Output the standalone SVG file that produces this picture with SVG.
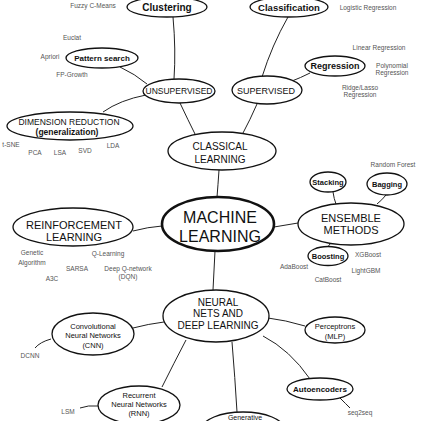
<svg xmlns="http://www.w3.org/2000/svg" width="421" height="421" viewBox="0 0 421 421">
<defs>
<style>
.n ellipse{fill:#fff;stroke:#111;stroke-width:1.3}
.big ellipse{stroke-width:2.6}
.t{font-family:"Liberation Sans",Arial,sans-serif;fill:#111;text-anchor:middle}
.b{font-weight:bold}
.s{font-family:"Liberation Sans",Arial,sans-serif;fill:#555;font-size:6.5px;text-anchor:middle}
#connectors path{fill:none;stroke:#222;stroke-width:1}
</style>
</defs>
<rect width="421" height="421" fill="#fff"/>
<g id="connectors">
<path d="M173,17 Q176,50 174,79"/>
<path d="M120,67 Q135,74 147,84"/>
<path d="M146,95 Q120,100 103,112"/>
<path d="M180,103 Q188,120 195,134"/>
<path d="M288,17 Q272,45 262,77"/>
<path d="M310,73 Q300,78 292,81"/>
<path d="M257,104 Q250,120 243,133"/>
<path d="M219,170 Q218,185 217,197"/>
<path d="M133,231 Q148,227 162,226"/>
<path d="M274,227 Q286,225 298,223"/>
<path d="M333,192 Q334,199 336,204"/>
<path d="M386,195 Q382,200 377,204"/>
<path d="M330,244 L327,248"/>
<path d="M215,251 L213,290"/>
<path d="M164,322 Q148,324 133,328"/>
<path d="M268,318 Q285,320 305,326"/>
<path d="M263,336 Q290,350 310,379"/>
<path d="M186,340 Q174,363 162,387"/>
<path d="M232,342 Q235,378 237,412"/>
<path d="M35,348 Q40,342 51,339"/>
<path d="M80,408 Q88,405 98,406"/>
<path d="M340,398 Q346,404 350,408"/>
</g>
<g id="clustering" class="n"><ellipse cx="167" cy="7" rx="40" ry="10"/><text class="t b" x="167" y="11" font-size="10">Clustering</text></g>
<g id="classification" class="n"><ellipse cx="289" cy="7" rx="39" ry="10"/><text class="t b" x="289" y="11" font-size="9.5">Classification</text></g>
<g id="pattern-search" class="n"><ellipse cx="102" cy="58" rx="36" ry="10"/><text class="t b" x="102" y="61" font-size="8">Pattern search</text></g>
<g id="unsupervised" class="n"><ellipse cx="179" cy="91" rx="36" ry="12"/><text class="t" x="179" y="94" font-size="8.5">UNSUPERVISED</text></g>
<g id="supervised" class="n"><ellipse cx="267" cy="90" rx="35" ry="14"/><text class="t" x="266" y="94" font-size="9">SUPERVISED</text></g>
<g id="regression" class="n"><ellipse cx="335" cy="66" rx="30" ry="10"/><text class="t b" x="335" y="69" font-size="9">Regression</text></g>
<g id="dimension-reduction" class="n"><ellipse cx="70" cy="126" rx="63" ry="14"/><text class="t" x="69" y="125" font-size="8.5">DIMENSION REDUCTION</text><text class="t b" x="67" y="135" font-size="8.5">(generalization)</text></g>
<g id="classical-learning" class="n"><ellipse cx="222" cy="151" rx="54" ry="19"/><text class="t" x="220" y="150" font-size="10">CLASSICAL</text><text class="t" x="220" y="163" font-size="10">LEARNING</text></g>
<g id="machine-learning" class="n big"><ellipse cx="218" cy="224" rx="56" ry="27"/><text class="t" x="220" y="223" font-size="16">MACHINE</text><text class="t" x="220" y="242" font-size="16">LEARNING</text></g>
<g id="reinforcement-learning" class="n"><ellipse cx="73" cy="227" rx="60" ry="19"/><text class="t" x="74" y="229" font-size="11">REINFORCEMENT</text><text class="t" x="74" y="241" font-size="11">LEARNING</text></g>
<g id="ensemble-methods" class="n"><ellipse cx="351" cy="224" rx="53" ry="21"/><text class="t" x="351" y="222" font-size="11">ENSEMBLE</text><text class="t" x="351" y="234" font-size="11">METHODS</text></g>
<g id="stacking" class="n"><ellipse cx="328" cy="182" rx="18" ry="10"/><text class="t b" x="328" y="185" font-size="7.5">Stacking</text></g>
<g id="bagging" class="n"><ellipse cx="387" cy="184" rx="20" ry="11"/><text class="t b" x="387" y="187" font-size="7.5">Bagging</text></g>
<g id="boosting" class="n"><ellipse cx="328" cy="256" rx="20" ry="9.5"/><text class="t b" x="328" y="259" font-size="7.5">Boosting</text></g>
<g id="neural-nets" class="n"><ellipse cx="216" cy="316" rx="53" ry="26"/><text class="t" x="218" y="306" font-size="10">NEURAL</text><text class="t" x="218" y="317" font-size="10">NETS AND</text><text class="t" x="218" y="329" font-size="10">DEEP LEARNING</text></g>
<g id="cnn" class="n"><ellipse cx="93" cy="334" rx="41" ry="21"/><text class="t" x="93" y="329" font-size="7.5">Convolutional</text><text class="t" x="93" y="338" font-size="7.5">Neural Networks</text><text class="t" x="93" y="348" font-size="7.5">(CNN)</text></g>
<g id="perceptrons" class="n"><ellipse cx="335" cy="330" rx="30" ry="13"/><text class="t" x="335" y="329" font-size="7.5">Perceptrons</text><text class="t" x="335" y="339" font-size="7.5">(MLP)</text></g>
<g id="rnn" class="n"><ellipse cx="139" cy="405" rx="41" ry="19"/><text class="t" x="139" y="398" font-size="7.5">Recurrent</text><text class="t" x="139" y="407" font-size="7.5">Neural Networks</text><text class="t" x="139" y="416" font-size="7.5">(RNN)</text></g>
<g id="autoencoders" class="n"><ellipse cx="320" cy="389" rx="33" ry="11"/><text class="t b" x="320" y="392" font-size="8">Autoencoders</text></g>
<g id="generative" class="n"><ellipse cx="243" cy="429" rx="41" ry="17"/><text class="t" x="245" y="420" font-size="7">Generative</text></g>
<g id="labels">
<text class="s" x="93" y="8">Fuzzy C-Means</text>
<text class="s" x="72" y="40">Euclat</text>
<text class="s" x="50" y="59">Apriori</text>
<text class="s" x="72" y="77">FP-Growth</text>
<text class="s" x="368" y="10">Logistic Regression</text>
<text class="s" x="379" y="50">Linear Regression</text>
<text class="s" x="392" y="68">Polynomial</text>
<text class="s" x="392" y="75">Regression</text>
<text class="s" x="360" y="90">Ridge/Lasso</text>
<text class="s" x="360" y="97">Regression</text>
<text class="s" x="11" y="147">t-SNE</text>
<text class="s" x="35" y="155">PCA</text>
<text class="s" x="60" y="155">LSA</text>
<text class="s" x="85" y="153">SVD</text>
<text class="s" x="113" y="148">LDA</text>
<text class="s" x="32" y="255">Genetic</text>
<text class="s" x="32" y="265">Algorithm</text>
<text class="s" x="108" y="256">Q-Learning</text>
<text class="s" x="77" y="271">SARSA</text>
<text class="s" x="128" y="271">Deep Q-network</text>
<text class="s" x="128" y="279">(DQN)</text>
<text class="s" x="52" y="281">A3C</text>
<text class="s" x="393" y="167">Random Forest</text>
<text class="s" x="368" y="257">XGBoost</text>
<text class="s" x="294" y="269">AdaBoost</text>
<text class="s" x="366" y="273">LightGBM</text>
<text class="s" x="328" y="282">CatBoost</text>
<text class="s" x="30" y="358">DCNN</text>
<text class="s" x="68" y="414">LSM</text>
<text class="s" x="360" y="415">seq2seq</text>
</g>
</svg>
